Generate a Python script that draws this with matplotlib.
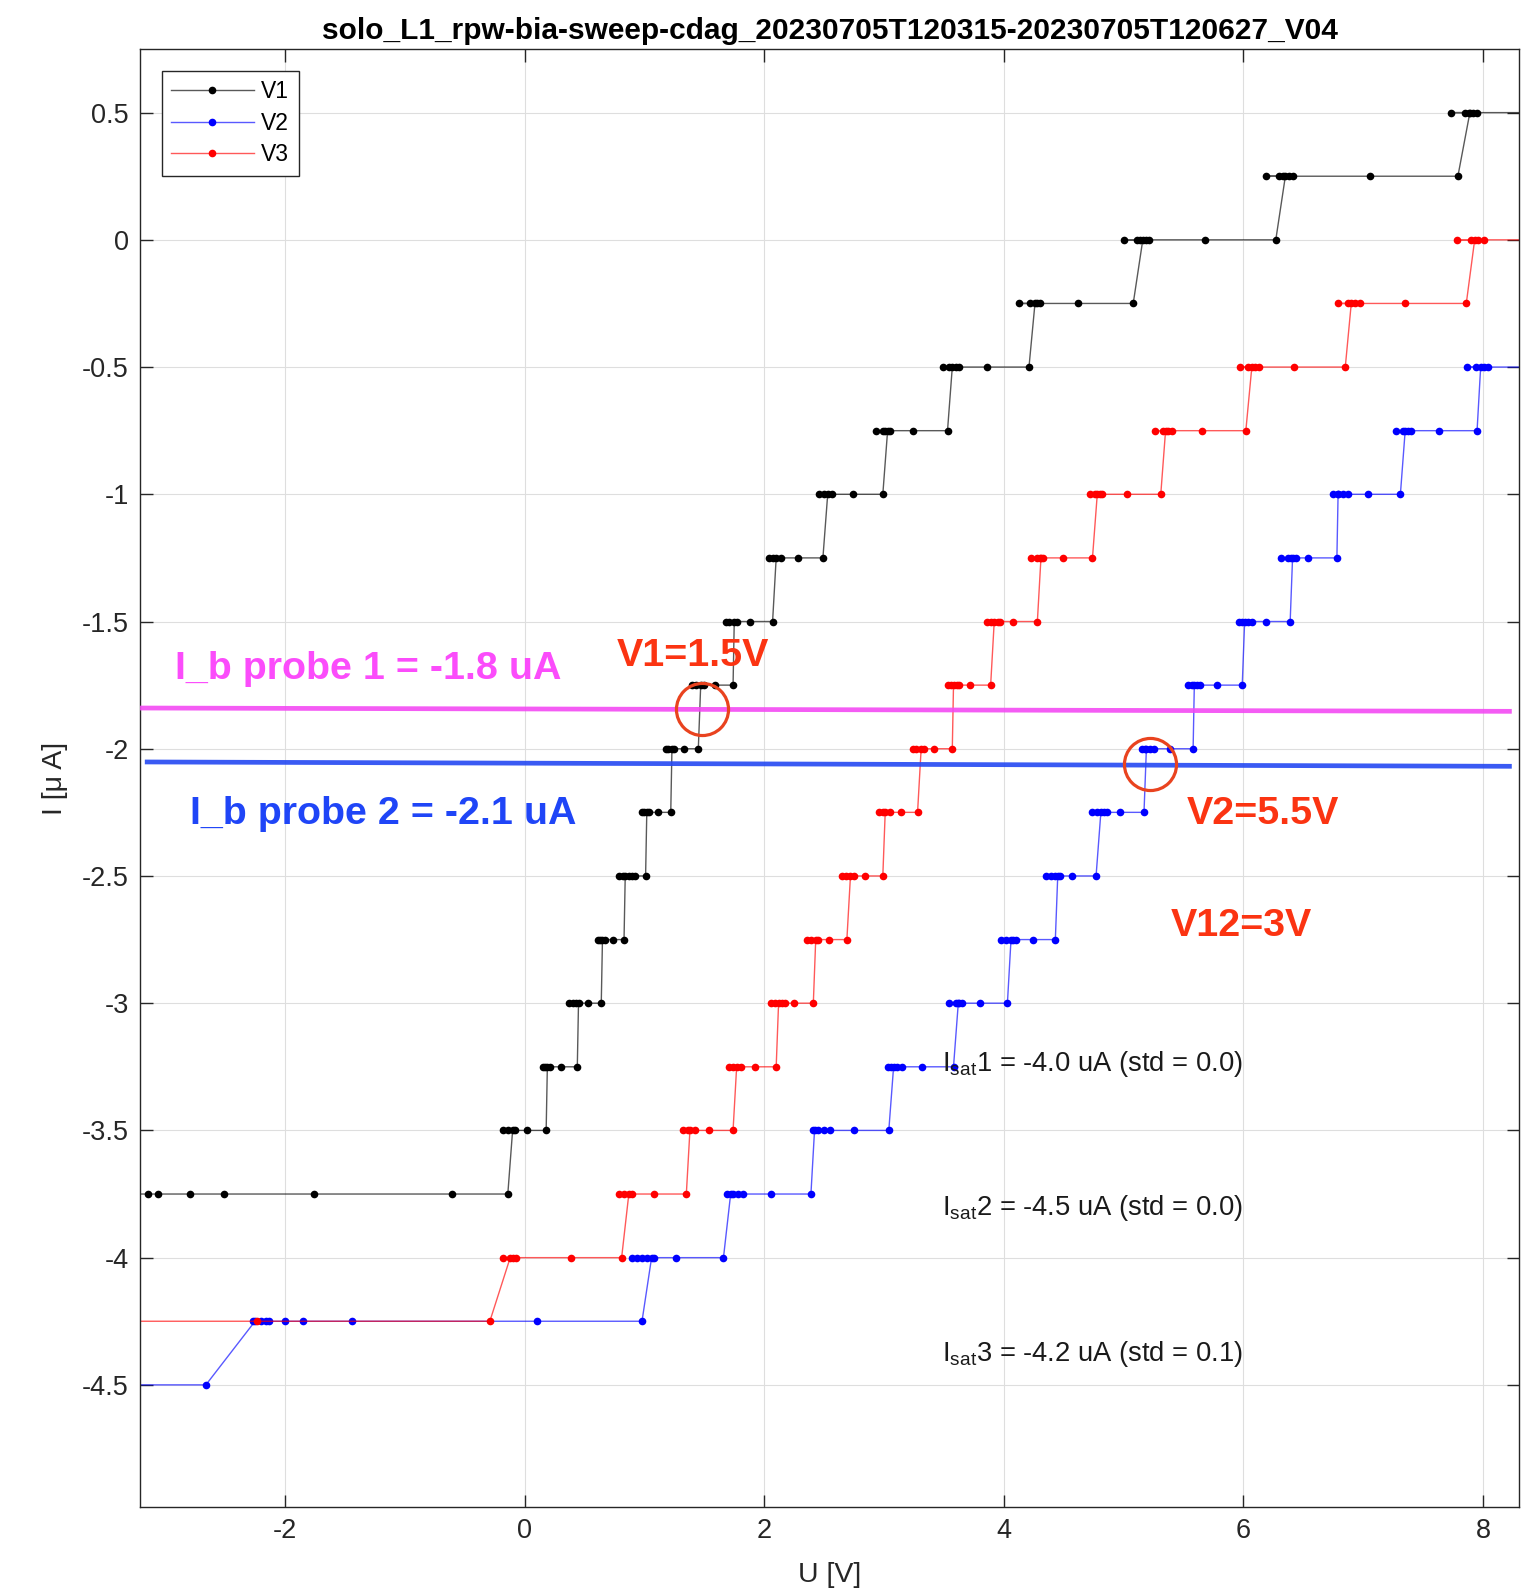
import matplotlib
matplotlib.use('Agg')
import matplotlib.pyplot as plt

plt.rcParams['font.family'] = ['Liberation Sans', 'DejaVu Sans']
plt.rcParams['mathtext.fontset'] = 'custom'
plt.rcParams['mathtext.rm'] = 'Liberation Sans'
plt.rcParams['mathtext.it'] = 'Liberation Sans:italic'
plt.rcParams['axes.unicode_minus'] = False

TITLE = 'solo_L1_rpw-bia-sweep-cdag_20230705T120315-20230705T120627_V04'

# bias current plateaus [uA] and the probe voltages [V] sampled on each plateau
v1_levels = [-3.75, -3.5, -3.25, -3.0, -2.75, -2.5, -2.25, -2.0, -1.75,
             -1.5, -1.25, -1.0, -0.75, -0.5, -0.25, 0.0, 0.25, 0.5]
v1_volts = [
    [-3.30, -3.14, -3.06, -2.79, -2.51, -1.76, -0.61, -0.14],
    [-0.10, -0.18, -0.14, -0.08, 0.02, 0.18],
    [0.19, 0.15, 0.17, 0.21, 0.30, 0.44],
    [0.45, 0.37, 0.40, 0.43, 0.53, 0.64],
    [0.65, 0.61, 0.63, 0.67, 0.74, 0.83],
    [0.84, 0.79, 0.82, 0.87, 0.90, 0.92, 1.01],
    [1.02, 0.98, 1.00, 1.04, 1.11, 1.22],
    [1.23, 1.18, 1.20, 1.25, 1.33, 1.45],
    [1.47, 1.40, 1.43, 1.50, 1.59, 1.74],
    [1.75, 1.68, 1.71, 1.77, 1.88, 2.07],
    [2.10, 2.04, 2.07, 2.14, 2.28, 2.49],
    [2.53, 2.46, 2.50, 2.57, 2.74, 2.99],
    [3.03, 2.99, 2.93, 3.01, 3.05, 3.24, 3.53],
    [3.57, 3.54, 3.49, 3.60, 3.63, 3.86, 4.21],
    [4.26, 4.22, 4.13, 4.28, 4.30, 4.62, 5.08],
    [5.16, 5.11, 5.00, 5.14, 5.19, 5.21, 5.68, 6.27],
    [6.35, 6.30, 6.19, 6.33, 6.38, 6.41, 7.06, 7.79],
    [7.89, 7.85, 7.73, 7.88, 7.92, 7.95, 8.40],
]

v2_levels = [-4.5, -4.25, -4.0, -3.75, -3.5, -3.25, -3.0, -2.75, -2.5,
             -2.25, -2.0, -1.75, -1.5, -1.25, -1.0, -0.75, -0.5]
v2_volts = [
    [-3.30, -2.66],
    [-2.25, -2.27, -2.20, -2.16, -2.13, -2.00, -1.85, -1.44, 0.10, 0.98],
    [1.06, 0.90, 0.94, 0.98, 1.02, 1.08, 1.26, 1.66],
    [1.72, 1.69, 1.74, 1.78, 1.82, 2.06, 2.39],
    [2.42, 2.41, 2.45, 2.50, 2.55, 2.75, 3.04],
    [3.08, 3.03, 3.06, 3.11, 3.15, 3.32, 3.58],
    [3.62, 3.60, 3.54, 3.63, 3.65, 3.80, 4.03],
    [4.06, 3.98, 4.02, 4.08, 4.10, 4.24, 4.43],
    [4.45, 4.35, 4.39, 4.43, 4.47, 4.57, 4.77],
    [4.81, 4.74, 4.78, 4.84, 4.86, 4.97, 5.17],
    [5.19, 5.15, 5.18, 5.22, 5.25, 5.39, 5.58],
    [5.59, 5.54, 5.57, 5.61, 5.64, 5.78, 5.99],
    [6.01, 5.96, 5.99, 6.04, 6.07, 6.19, 6.39],
    [6.41, 6.37, 6.31, 6.40, 6.44, 6.54, 6.78],
    [6.79, 6.75, 6.79, 6.83, 6.87, 7.04, 7.31],
    [7.35, 7.33, 7.27, 7.37, 7.40, 7.63, 7.95],
    [7.98, 7.94, 7.87, 8.01, 8.04, 8.40],
]

v3_levels = [-4.25, -4.0, -3.75, -3.5, -3.25, -3.0, -2.75, -2.5, -2.25,
             -2.0, -1.75, -1.5, -1.25, -1.0, -0.75, -0.5, -0.25, 0.0]
v3_volts = [
    [-3.30, -2.23, -0.29],
    [-0.12, -0.18, -0.10, -0.07, 0.39, 0.81],
    [0.87, 0.79, 0.83, 0.90, 1.08, 1.35],
    [1.38, 1.32, 1.36, 1.42, 1.54, 1.74],
    [1.77, 1.71, 1.74, 1.81, 1.92, 2.10],
    [2.12, 2.06, 2.09, 2.15, 2.17, 2.25, 2.41],
    [2.43, 2.36, 2.39, 2.45, 2.54, 2.69],
    [2.72, 2.65, 2.68, 2.75, 2.84, 2.99],
    [3.01, 2.96, 2.99, 3.05, 3.14, 3.28],
    [3.31, 3.24, 3.27, 3.33, 3.42, 3.57],
    [3.58, 3.53, 3.56, 3.61, 3.63, 3.72, 3.89],
    [3.92, 3.86, 3.89, 3.95, 3.97, 4.08, 4.28],
    [4.31, 4.28, 4.23, 4.30, 4.33, 4.49, 4.74],
    [4.78, 4.76, 4.72, 4.80, 4.82, 5.03, 5.31],
    [5.35, 5.33, 5.26, 5.37, 5.40, 5.65, 6.02],
    [6.07, 6.04, 5.97, 6.10, 6.13, 6.42, 6.85],
    [6.90, 6.87, 6.79, 6.93, 6.97, 7.35, 7.86],
    [7.93, 7.90, 7.78, 7.96, 8.01, 8.40],
]

# hand drawn bias current marks (start / end)
ib1_u = [-3.19, 8.22]
ib1_i = [-1.840, -1.853]
ib2_u = [-3.15, 8.22]
ib2_i = [-2.052, -2.069]

# crossing points circled on the figure
circle_u = [1.482, 5.221]
circle_i = [-1.844, -2.059]

isat_text = ['1 = -4.0 uA (std = 0.0)', '2 = -4.5 uA (std = 0.0)',
             '3 = -4.2 uA (std = 0.1)']
isat_y = [-3.265, -3.831, -4.407]

xticks = [-2, 0, 2, 4, 6, 8]
xtick_labels = ['-2', '0', '2', '4', '6', '8']
yticks = [-4.5, -4, -3.5, -3, -2.5, -2, -1.5, -1, -0.5, 0, 0.5]
ytick_labels = ['-4.5', '-4', '-3.5', '-3', '-2.5', '-2', '-1.5', '-1',
                '-0.5', '0', '0.5']


def staircase(levels, volts):
    u, i = [], []
    for lev, us in zip(levels, volts):
        u += us
        i += [lev] * len(us)
    return u, i


fig = plt.figure(figsize=(15.31, 15.93), dpi=100)
ax = fig.add_axes([140 / 1531, 86 / 1593, 1379 / 1531, 1458 / 1593])

for levels, volts, col, lab in [(v1_levels, v1_volts, (0, 0, 0), 'V1'),
                                (v2_levels, v2_volts, (0, 0, 1), 'V2'),
                                (v3_levels, v3_volts, (1, 0, 0), 'V3')]:
    u, i = staircase(levels, volts)
    ax.plot(u, i, '-o', color=col + (0.65,), lw=1.0, ms=5.5,
            mfc=col, mec=col, mew=0, label=lab, zorder=2)

ax.plot(ib1_u, ib1_i, color='#f34af3', lw=3.4, alpha=0.9, zorder=3)
ax.plot(ib2_u, ib2_i, color='#2448f2', lw=3.4, alpha=0.9, zorder=3)
ax.plot(circle_u, circle_i, 'o', ms=37.5, mfc='none', mec='#e9431f',
        mew=2.3, zorder=4)

bold = dict(fontsize=28.4, fontweight='bold', zorder=5)
ax.text(-2.916, -1.725, 'I_b probe 1 = -1.8 uA', color='#fb4cfb', **bold)
ax.text(-2.789, -2.295, 'I_b probe 2 = -2.1 uA', color='#1f45f7', **bold)
ax.text(0.77, -1.674, 'V1=1.5V', color='#fb3412', **bold)
ax.text(5.525, -2.296, 'V2=5.5V', color='#fb3412', **bold)
ax.text(5.39, -2.735, 'V12=3V', color='#fb3412', **bold)

for txt, y in zip(isat_text, isat_y):
    ax.text(3.48, y, r'I$_{\mathregular{sat}}$' + txt, fontsize=19.7,
            color='#1a1a1a', zorder=5)

ax.set_xlim(-3.21, 8.30)
ax.set_ylim(-4.98, 0.75)
ax.set_xticks(xticks)
ax.set_xticklabels(xtick_labels)
ax.set_yticks(yticks)
ax.set_yticklabels(ytick_labels)
ax.tick_params(direction='in', length=9, width=1, top=True, right=True,
               labelsize=19.5, pad=8, colors='#262626')
ax.grid(True, color='#dedede', lw=0.8)
ax.set_axisbelow(True)
for s in ax.spines.values():
    s.set_color('#262626')
    s.set_linewidth(1.0)

ax.set_xlabel('U [V]', fontsize=20.5, labelpad=13, color='#262626')
ax.set_ylabel('I [μ A]', fontsize=20.5, labelpad=10, color='#262626')
ax.set_title(TITLE, fontsize=21.5, fontweight='bold', pad=7)

leg = ax.legend(loc='upper left', bbox_to_anchor=(0.0156, 0.985),
                borderaxespad=0, fontsize=16.5, handlelength=3.6,
                handletextpad=0.33, labelspacing=0.36, borderpad=0.42,
                fancybox=False, framealpha=1, edgecolor='#262626')
leg.get_frame().set_linewidth(1.0)

fig.savefig('out.png', dpi=100)
